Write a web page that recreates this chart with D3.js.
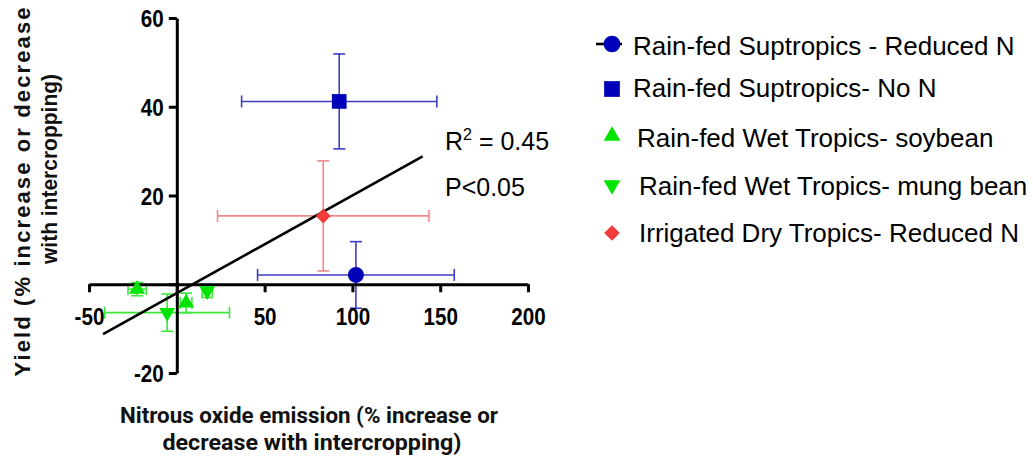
<!DOCTYPE html>
<html>
<head>
<meta charset="utf-8">
<script src="https://cdn.jsdelivr.net/npm/d3@7/dist/d3.min.js"></script>
<style>
  html, body { margin: 0; padding: 0; background: #fff; }
  svg { display: block; }
</style>
</head>
<body>
<svg id="chart" width="1033" height="461"></svg>
<script>
// Series shown in the legend, in order
const seriesNames = [
  "Rain-fed Suptropics - Reduced N",
  "Rain-fed Suptropics- No N",
  "Rain-fed Wet Tropics- soybean",
  "Rain-fed Wet Tropics- mung bean",
  "Irrigated Dry Tropics- Reduced N"
];

// N2O change (x) and yield change (y), each with +/- error, per series
const reducedNX = [102],  reducedNY = [2.1],  reducedNXErr = [56],  reducedNYErr = [7.5];
const noNX      = [92.5], noNY      = [41.2], noNXErr      = [55.6], noNYErr     = [10.7];
const soybeanX  = [-22.6, 5.3], soybeanY = [-1.1, -4.2], soybeanXErr = [5.2, 3.3], soybeanYErr = [1.5, 2.2];
const mungX     = [-5.5, 17.3], mungY    = [-6.4, -1.5], mungXErr    = [35.5, 2.9], mungYErr    = [4.2, 1.5];
const irrigX    = [83.4], irrigY    = [15.4], irrigXErr    = [60.2], irrigYErr   = [12.4];

// Linear fit across all points
const fitSlope = 0.22, fitIntercept = -2.0;
const fitRange = [-42, 140];
const fitR2 = "0.45", fitP = "P<0.05";

// Axis ticks
const xTicks = [-50, 0, 50, 100, 150, 200];
const yTicks = [-20, 0, 20, 40, 60];

const svg = d3.select("#chart");

const x = d3.scaleLinear().domain([-50, 200]).range([89, 528]);
const y = d3.scaleLinear().domain([-20, 60]).range([373, 18]);

const blueMark = "#0000b8", blueErr = "#3c3cc8";
const greenMark = "#00e400", greenErr = "#3ae83a";
const redMark = "#f23c3c", redErr = "#f08a8a";

const zip = (xs, ys, xe, ye) => xs.map((v, i) => ({ x: v, y: ys[i], xe: xe[i], ye: ye[i] }));

const series = [
  { name: seriesNames[0], pts: zip(reducedNX, reducedNY, reducedNXErr, reducedNYErr), mark: blueMark, err: blueErr, shape: "circle" },
  { name: seriesNames[1], pts: zip(noNX, noNY, noNXErr, noNYErr), mark: blueMark, err: blueErr, shape: "square" },
  { name: seriesNames[2], pts: zip(soybeanX, soybeanY, soybeanXErr, soybeanYErr), mark: greenMark, err: greenErr, shape: "up" },
  { name: seriesNames[3], pts: zip(mungX, mungY, mungXErr, mungYErr), mark: greenMark, err: greenErr, shape: "down" },
  { name: seriesNames[4], pts: zip(irrigX, irrigY, irrigXErr, irrigYErr), mark: redMark, err: redErr, shape: "diamond" }
];

function symbolPath(shape, scale) {
  const k = scale || 1;
  if (shape === "circle") return d3.symbol(d3.symbolCircle, 200 * k)();
  if (shape === "square") return d3.symbol(d3.symbolSquare, 215 * k)();
  if (shape === "diamond") return d3.symbol(d3.symbolSquare, 112 * k)();
  return d3.symbol(d3.symbolTriangle, 110 * k)();
}
function symbolRotate(shape) {
  if (shape === "down") return 180;
  if (shape === "diamond") return 45;
  return 0;
}

// Error bars
const cap = 6;
const errG = svg.append("g").attr("fill", "none").attr("stroke-width", 1.6);
series.forEach(s => {
  s.pts.forEach(p => {
    const cx = x(p.x), cy = y(p.y);
    const x0 = x(p.x - p.xe), x1 = x(p.x + p.xe);
    const y0 = y(p.y - p.ye), y1 = y(p.y + p.ye);
    const g = errG.append("g").attr("stroke", s.err);
    g.append("line").attr("x1", x0).attr("x2", x1).attr("y1", cy).attr("y2", cy);
    g.append("line").attr("x1", x0).attr("x2", x0).attr("y1", cy - cap).attr("y2", cy + cap);
    g.append("line").attr("x1", x1).attr("x2", x1).attr("y1", cy - cap).attr("y2", cy + cap);
    g.append("line").attr("x1", cx).attr("x2", cx).attr("y1", y0).attr("y2", y1);
    g.append("line").attr("x1", cx - cap).attr("x2", cx + cap).attr("y1", y0).attr("y2", y0);
    g.append("line").attr("x1", cx - cap).attr("x2", cx + cap).attr("y1", y1).attr("y2", y1);
  });
});

// Axes crossing at the origin
const tickFont = "'Liberation Sans', Arial, sans-serif";
const sx = 0.86;

const xAxis = svg.append("g")
  .attr("transform", `translate(0,${y(0)})`)
  .call(d3.axisBottom(x).tickValues(xTicks).tickSize(8).tickSizeOuter(0)
    .tickFormat(d => d === 0 ? "" : d));
xAxis.select(".domain").attr("stroke", "#000").attr("stroke-width", 3);
xAxis.selectAll(".tick line").attr("stroke", "#000").attr("stroke-width", 3);
xAxis.selectAll(".tick text")
  .attr("font-family", tickFont).attr("font-weight", "bold").attr("font-size", 24)
  .attr("fill", "#000").attr("y", 41).attr("dy", 0)
  .attr("transform", `scale(${sx},1)`);

const yAxis = svg.append("g")
  .attr("transform", `translate(${x(0)},0)`)
  .call(d3.axisLeft(y).tickValues(yTicks).tickSize(8).tickSizeOuter(0)
    .tickFormat(d => d === 0 ? "" : d));
yAxis.select(".domain").attr("stroke", "#000").attr("stroke-width", 3);
yAxis.selectAll(".tick line").attr("stroke", "#000").attr("stroke-width", 3);
yAxis.selectAll(".tick text")
  .attr("font-family", tickFont).attr("font-weight", "bold").attr("font-size", 24)
  .attr("fill", "#000").attr("x", -13 / sx).attr("dy", "0.36em")
  .attr("transform", `scale(${sx},1)`);

// Regression line
svg.append("line")
  .attr("x1", x(fitRange[0])).attr("y1", y(fitIntercept + fitSlope * fitRange[0]))
  .attr("x2", x(fitRange[1])).attr("y2", y(fitIntercept + fitSlope * fitRange[1]))
  .attr("stroke", "#000").attr("stroke-width", 2.6);

// Markers
const markG = svg.append("g");
series.forEach(s => {
  markG.selectAll(null).data(s.pts).enter().append("path")
    .attr("d", symbolPath(s.shape))
    .attr("transform", d => `translate(${x(d.x)},${y(d.y)}) rotate(${symbolRotate(s.shape)})`)
    .attr("fill", s.mark);
});

// Fit statistics
const stat = svg.append("text")
  .attr("x", 445).attr("y", 150)
  .attr("font-family", tickFont).attr("font-size", 25).attr("fill", "#000");
stat.append("tspan").text("R");
stat.append("tspan").attr("font-size", 16).attr("dy", -10).text("2");
stat.append("tspan").attr("dy", 10).text(" = " + fitR2);
svg.append("text")
  .attr("x", 445).attr("y", 196)
  .attr("font-family", tickFont).attr("font-size", 25).attr("fill", "#000")
  .text(fitP);

// Axis titles
const xt = svg.append("g").attr("font-family", "Roboto, 'Liberation Sans', sans-serif")
  .attr("font-weight", "bold").attr("font-size", 22).attr("fill", "#111").attr("text-anchor", "middle");
xt.append("text").attr("x", 309).attr("y", 423)
  .attr("textLength", 378).attr("lengthAdjust", "spacingAndGlyphs")
  .text("Nitrous oxide emission (% increase or");
xt.append("text").attr("x", 312).attr("y", 450)
  .attr("textLength", 299).attr("lengthAdjust", "spacingAndGlyphs")
  .text("decrease with intercropping)");

const yt = svg.append("g").attr("font-family", tickFont)
  .attr("font-weight", "bold").attr("font-size", 22).attr("fill", "#111").attr("text-anchor", "middle");
yt.append("text").attr("transform", "translate(30,192) rotate(-90)")
  .attr("textLength", 369).attr("lengthAdjust", "spacing")
  .text("Yield (% increase or decrease");
yt.append("text").attr("transform", "translate(57,169) rotate(-90)")
  .attr("textLength", 190).attr("lengthAdjust", "spacingAndGlyphs")
  .text("with intercropping)");

// Legend
const legendRows = [44, 89, 136, 185, 233];
const legendBase = [55, 97, 147, 195, 242];
const legendTextX = [633, 633, 637, 639, 639];
const legend = svg.append("g");
series.forEach((s, i) => {
  const row = legend.append("g");
  if (i === 0) {
    row.append("line").attr("x1", 596).attr("x2", 622)
      .attr("y1", legendRows[i]).attr("y2", legendRows[i])
      .attr("stroke", "#000").attr("stroke-width", 2.6);
  }
  row.append("path")
    .attr("d", symbolPath(s.shape, s.shape === "square" ? 1.15 : 1.1))
    .attr("transform", `translate(612,${legendRows[i]}) rotate(${symbolRotate(s.shape)})`)
    .attr("fill", s.mark);
  row.append("text")
    .attr("x", legendTextX[i]).attr("y", legendBase[i])
    .attr("font-family", tickFont).attr("font-size", 26).attr("fill", "#000")
    .text(s.name);
});
</script>
</body>
</html>
